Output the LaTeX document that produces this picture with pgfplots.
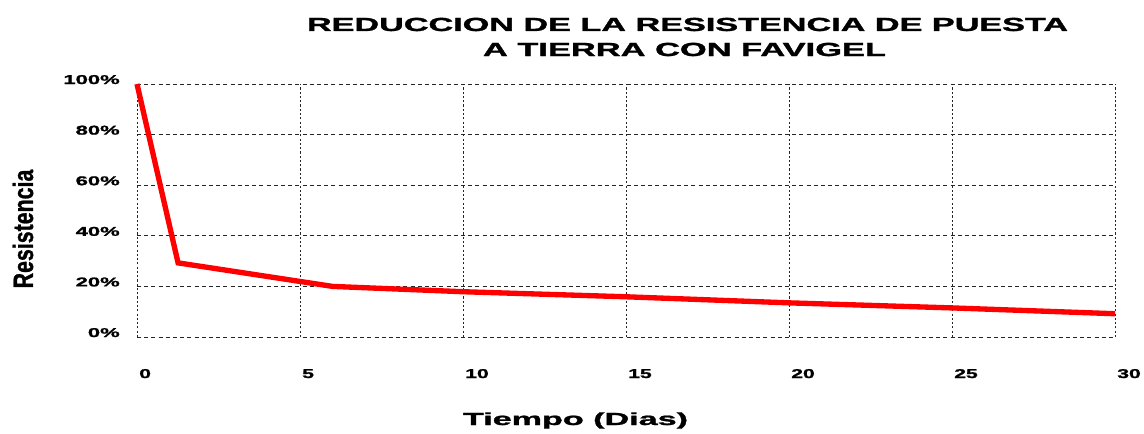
\documentclass[border=0pt]{standalone}
\usepackage{pgfplots}
\pgfplotsset{compat=1.18}
\usepackage{fontspec}
\setmainfont{Liberation Sans}
\newfontfamily\heavy[FakeBold=1.2]{Liberation Sans Bold}
\usepackage{graphicx}
\begin{document}
\begin{tikzpicture}[x=1pt,y=1pt]
\path[use as bounding box] (-102.75,-72) rectangle (755.25,252.75);
\begin{axis}[
  at={(0,0)}, anchor=south west,
  scale only axis, width=733.5pt, height=189.75pt,
  xmin=0, xmax=30, ymin=0, ymax=100,
  xtick={0,5,...,30}, ytick={0,20,...,100},
  axis line style={draw=none},
  major tick length=0pt,
  /pgf/number format/assume math mode=true,
  xmajorgrids, ymajorgrids,
  x grid style={black!85, line width=0.6pt, dash pattern=on 1.6pt off 1.6pt},
  y grid style={black!85, line width=0.6pt, dash pattern=on 3pt off 2.4pt},
  xticklabel={\scalebox{1.65}[1]{\fontsize{9.6}{10}\selectfont\heavy\pgfmathprintnumber{\tick}}},
  yticklabel={\scalebox{1.72}[1]{\fontsize{9.6}{10}\selectfont\heavy\pgfmathprintnumber{\tick}\%}},
  xticklabel style={anchor=base west, inner sep=0pt, xshift=1.5pt, yshift=-30.75pt},
  yticklabel style={anchor=base east, inner sep=0pt, xshift=-12.75pt},
  clip=false,
]
\addplot[red, line width=4pt, line join=miter] coordinates {
  (0,100) (1.26,29.3) (6,20) (10,17.9) (15,15.9) (20,13.5) (25,11.5) (30,9.2)
};
\end{axis}
\node[anchor=base, inner sep=0pt] at (412.9,229.5) {\resizebox{570.75pt}{\height}{\fontsize{14.2}{16}\selectfont\heavy REDUCCION DE LA RESISTENCIA DE PUESTA}};
\node[anchor=base, inner sep=0pt] at (410.6,210.75) {\resizebox{302.25pt}{\height}{\fontsize{14.2}{16}\selectfont\heavy A TIERRA CON FAVIGEL}};
\node[anchor=base, inner sep=0pt] at (328.9,-66) {\resizebox{168.75pt}{\height}{\fontsize{13.1}{15}\selectfont\heavy Tiempo (Dias)}};
\node[anchor=base, inner sep=0pt, rotate=90] at (-78,81) {\resizebox{89pt}{\height}{\fontsize{21}{24}\selectfont\heavy Resistencia}};
\end{tikzpicture}
\end{document}
